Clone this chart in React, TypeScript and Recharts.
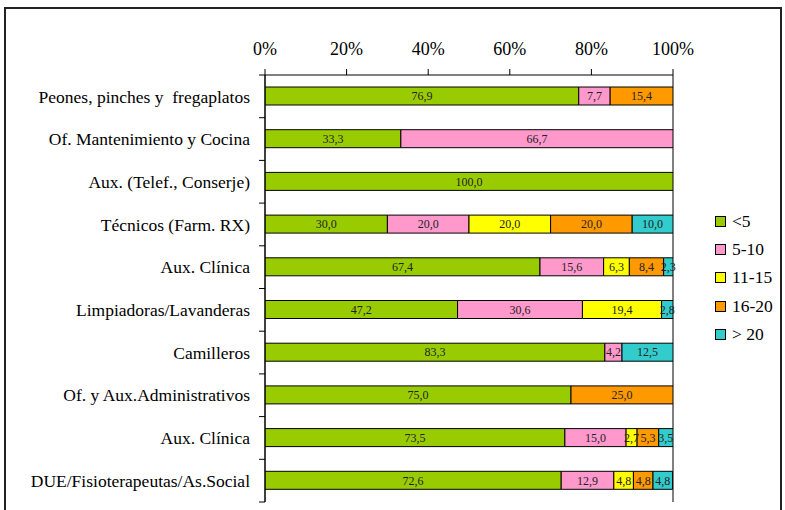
import React from 'react';
import { BarChart, Bar, XAxis, YAxis, CartesianGrid, LabelList, Legend } from 'recharts';

const categories = [
  'Peones, pinches y  fregaplatos',
  'Of. Mantenimiento y Cocina',
  'Aux. (Telef., Conserje)',
  'Técnicos (Farm. RX)',
  'Aux. Clínica',
  'Limpiadoras/Lavanderas',
  'Camilleros',
  'Of. y Aux.Administrativos',
  'Aux. Clínica',
  'DUE/Fisioterapeutas/As.Social',
];

const lt5 = [76.9, 33.3, 100.0, 30.0, 67.4, 47.2, 83.3, 75.0, 73.5, 72.6];
const s5to10 = [7.7, 66.7, null, 20.0, 15.6, 30.6, 4.2, null, 15.0, 12.9];
const s11to15 = [null, null, null, 20.0, 6.3, 19.4, null, null, 2.7, 4.8];
const s16to20 = [15.4, null, null, 20.0, 8.4, null, null, 25.0, 5.3, 4.8];
const gt20 = [null, null, null, 10.0, 2.3, 2.8, 12.5, null, 3.5, 4.8];

const seriesKeys = ['a', 'b', 'c', 'd', 'e'];
const seriesNames = ['<5', '5-10', '11-15', '16-20', '> 20'];
const seriesColors = ['#99CC00', '#FF99CC', '#FFFF00', '#FF9900', '#33CCCC'];
const xTicks = [0, 20, 40, 60, 80, 100];

const data = categories.map((name, i) => ({
  idx: i,
  name,
  a: lt5[i],
  b: s5to10[i],
  c: s11to15[i],
  d: s16to20[i],
  e: gt20[i],
}));

const SERIF = '"Liberation Serif", "Times New Roman", serif';
const TICK_MARGIN = 9;
const TICK_LEN = 6;

const fmt = (v: any) =>
  v === null || v === undefined || v === 0 ? '' : Number(v).toFixed(1).replace('.', ',');

const CatTick = (props: any) => {
  const { x, y, payload, index, visibleTicksCount } = props;
  const off = payload && payload.offset ? payload.offset : 0;
  const lx1 = x + TICK_MARGIN;
  const lx2 = lx1 + TICK_LEN;
  const isLast = index === (visibleTicksCount ?? categories.length) - 1;
  return (
    <g>
      <line x1={lx1} x2={lx2} y1={y - off} y2={y - off} stroke="#000" strokeWidth={1} />
      {isLast && (
        <line x1={lx1} x2={lx2} y1={y + off} y2={y + off} stroke="#000" strokeWidth={1} />
      )}
      <text
        x={x}
        y={y}
        dy="0.355em"
        textAnchor="end"
        fontFamily={SERIF}
        fontSize={17.5}
        fill="#000"
        style={{ whiteSpace: 'pre' }}
        xmlSpace="preserve"
      >
        {categories[payload.value]}
      </text>
    </g>
  );
};

const renderLegend = () => (
  <div style={{ fontFamily: SERIF, fontSize: 17.5, color: '#000' }}>
    {seriesNames.map((n, i) => (
      <div key={n} style={{ display: 'flex', alignItems: 'center', height: 28.3 }}>
        <span
          style={{
            display: 'inline-block',
            width: 9,
            height: 9,
            background: seriesColors[i],
            border: '1px solid #000',
            marginRight: 6,
          }}
        />
        <span style={{ whiteSpace: 'pre' }}>{n}</span>
      </div>
    ))}
  </div>
);

export default function App() {
  return (
    <>
      <div
        style={{
          position: 'absolute',
          left: 4,
          top: 7,
          width: 778,
          height: 530,
          border: '2px solid #222',
          boxSizing: 'border-box',
        }}
      />
      <div style={{ position: 'absolute', left: 0, top: 0 }}>
        <BarChart
          width={785}
          height={510}
          data={data}
          layout="vertical"
          margin={{ top: 35, right: 42, bottom: 8, left: 7 }}
          barSize={18}
        >
          <CartesianGrid horizontal={false} vertical={true} stroke="#000" strokeWidth={1} />
          <XAxis
            xAxisId="top"
            type="number"
            orientation="top"
            domain={[0, 100]}
            ticks={xTicks}
            tickFormatter={(v: number) => `${v}%`}
            tick={{ fontFamily: SERIF, fontSize: 18, fill: '#000' }}
            tickSize={6}
            tickMargin={14}
            tickLine={{ stroke: '#000' }}
            axisLine={{ stroke: '#000' }}
            height={40}
            allowDataOverflow
          />
          <XAxis
            xAxisId="bottom"
            type="number"
            orientation="bottom"
            domain={[0, 100]}
            tick={false}
            tickLine={false}
            axisLine={{ stroke: '#999' }}
            height={0}
            allowDataOverflow
          />
          <YAxis
            yAxisId="cat"
            type="category"
            dataKey="idx"
            tick={<CatTick />}
            tickSize={TICK_LEN}
            tickLine={false}
            axisLine={{ stroke: '#000' }}
            tickMargin={TICK_MARGIN}
            width={258}
          />
          {seriesKeys.map((k, i) => (
            <Bar
              key={k}
              dataKey={k}
              name={seriesNames[i]}
              stackId="s"
              xAxisId="top"
              yAxisId="cat"
              fill={seriesColors[i]}
              stroke="#000"
              strokeWidth={1}
              isAnimationActive={false}
            >
              <LabelList
                dataKey={k}
                position="center"
                formatter={fmt}
                style={{ fontFamily: SERIF, fontSize: 12, fill: '#222' }}
              />
            </Bar>
          ))}
          <Legend
            layout="vertical"
            align="right"
            verticalAlign="top"
            content={renderLegend}
            wrapperStyle={{ position: 'absolute', left: 715, top: 207, width: 70 }}
          />
        </BarChart>
      </div>
    </>
  );
}
